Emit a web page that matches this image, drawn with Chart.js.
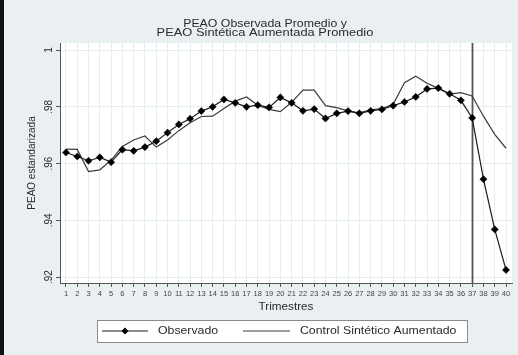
<!DOCTYPE html>
<html>
<head>
<meta charset="utf-8">
<script src="https://cdn.jsdelivr.net/npm/chart.js@4/dist/chart.umd.min.js"></script>
<style>
  html, body { margin: 0; padding: 0; background: #eaf0f2; }
  canvas { display: block; }
</style>
</head>
<body>
<canvas id="chart" width="518" height="355"></canvas>
<script>
// Quarters (x categories)
const quarters = [1, 2, 3, 4, 5, 6, 7, 8, 9, 10, 11, 12, 13, 14, 15, 16, 17, 18, 19, 20,
                  21, 22, 23, 24, 25, 26, 27, 28, 29, 30, 31, 32, 33, 34, 35, 36, 37, 38, 39, 40];

// Average observed PEAO (standardised)
const observed = [0.9639, 0.9625, 0.9610, 0.9622, 0.9605, 0.9649, 0.9645, 0.9658, 0.9679, 0.9709,
                  0.9738, 0.9758, 0.9785, 0.9800, 0.9826, 0.9814, 0.9800, 0.9806, 0.9798, 0.9833,
                  0.9814, 0.9786, 0.9792, 0.9759, 0.9777, 0.9785, 0.9777, 0.9786, 0.9791, 0.9804,
                  0.9817, 0.9835, 0.9863, 0.9866, 0.9846, 0.9823, 0.9761, 0.9545, 0.9368, 0.9225];

// Average augmented synthetic control PEAO
const synthetic = [0.9651, 0.9650, 0.9572, 0.9578, 0.9612, 0.9660, 0.9683, 0.9697, 0.9658, 0.9683,
                   0.9716, 0.9744, 0.9766, 0.9767, 0.9794, 0.9820, 0.9835, 0.9806, 0.9791, 0.9783,
                   0.9816, 0.9859, 0.9859, 0.9804, 0.9797, 0.9786, 0.9779, 0.9789, 0.9794, 0.9809,
                   0.9885, 0.9908, 0.9883, 0.9865, 0.9845, 0.9850, 0.9838, 0.9767, 0.9703, 0.9654];

// Axis ticks and labels
const yTickValues = [0.92, 0.94, 0.96, 0.98, 1];
const yTickLabels = ['.92', '.94', '.96', '.98', '1'];
const treatmentQuarter = 37;

// Texts
const titleLines = ['PEAO Observada Promedio y', 'PEAO Sintética Aumentada Promedio'];
const xTitle = 'Trimestres';
const yTitle = 'PEAO estandarizada';
const seriesNames = ['Observado', 'Control Sintético Aumentado'];

const FONT = "'Liberation Sans', Arial, Helvetica, sans-serif";
const BG = '#eaf0f2';
const AXIS = '#555555';
const GRID = '#e6edf0';
const TEXT = '#2a2a2a';
const OBS_COLOR = '#1c1c1c';
const SYN_COLOR = '#3c3c3c';
const STRETCH = 1.17;

function toPoints(values) {
  return quarters.map((q, i) => ({ x: q, y: values[i] }));
}

// Text drawn with a slight horizontal widening
function wideText(ctx, text, x, y, size, align, sx) {
  ctx.save();
  ctx.font = size + 'px ' + FONT;
  ctx.fillStyle = TEXT;
  ctx.textBaseline = 'middle';
  ctx.textAlign = align;
  ctx.translate(x, y);
  ctx.scale(sx, 1);
  ctx.fillText(text, 0, 0);
  ctx.restore();
}

function diamond(ctx, x, y, r, color) {
  ctx.beginPath();
  ctx.moveTo(x, y - r);
  ctx.lineTo(x + r, y);
  ctx.lineTo(x, y + r);
  ctx.lineTo(x - r, y);
  ctx.closePath();
  ctx.fillStyle = color;
  ctx.fill();
}

const framePlugin = {
  id: 'frame',
  beforeDraw(chart) {
    const { ctx, chartArea: a, width, height } = chart;
    ctx.save();
    ctx.fillStyle = BG;
    ctx.fillRect(0, 0, width, height);
    ctx.fillStyle = '#111111';
    ctx.fillRect(0, 0, 4, height);
    ctx.fillStyle = '#ffffff';
    ctx.fillRect(a.left, a.top, a.right - a.left, a.bottom - a.top);
    ctx.restore();
  },
  beforeDatasetsDraw(chart) {
    const { ctx, chartArea: a, scales } = chart;
    const x = Math.round(scales.x.getPixelForValue(treatmentQuarter)) + 0.5;
    ctx.save();
    ctx.strokeStyle = '#555555';
    ctx.lineWidth = 1.8;
    ctx.beginPath();
    ctx.moveTo(x, a.top);
    ctx.lineTo(x, a.bottom);
    ctx.stroke();
    ctx.restore();
  },
  afterDraw(chart) {
    const { ctx, chartArea: a, scales } = chart;

    // Title
    wideText(ctx, titleLines[0], 265, 24, 11, 'center', STRETCH - 0.05);
    wideText(ctx, titleLines[1], 265, 33, 11, 'center', STRETCH);

    // X axis title
    wideText(ctx, xTitle, (a.left + a.right) / 2, 307, 10, 'center', STRETCH);

    // Y tick labels (vertical) and axis title
    ctx.save();
    ctx.font = '10px ' + FONT;
    ctx.fillStyle = TEXT;
    ctx.textAlign = 'center';
    ctx.textBaseline = 'middle';
    yTickValues.forEach((v, i) => {
      const y = scales.y.getPixelForValue(v);
      ctx.save();
      ctx.translate(49, y);
      ctx.rotate(-Math.PI / 2);
      ctx.fillText(yTickLabels[i], 0, 0);
      ctx.restore();
    });
    ctx.translate(32, (a.top + a.bottom) / 2);
    ctx.rotate(-Math.PI / 2);
    ctx.fillText(yTitle, 0, 0);
    ctx.restore();

    // Legend
    const bx = 97, by = 320, bw = 370, bh = 22, cy = by + bh / 2;
    ctx.save();
    ctx.fillStyle = '#ffffff';
    ctx.fillRect(bx, by, bw, bh);
    ctx.strokeStyle = '#8a8a8a';
    ctx.lineWidth = 1;
    ctx.strokeRect(bx + 0.5, by + 0.5, bw, bh);
    const ds = chart.data.datasets;
    ctx.lineWidth = 1.2;
    ctx.strokeStyle = ds[0].borderColor;
    ctx.beginPath(); ctx.moveTo(102, cy); ctx.lineTo(148, cy); ctx.stroke();
    diamond(ctx, 125, cy, 3.5, ds[0].pointBackgroundColor);
    ctx.strokeStyle = ds[1].borderColor;
    ctx.beginPath(); ctx.moveTo(243, cy); ctx.lineTo(290, cy); ctx.stroke();
    ctx.restore();
    wideText(ctx, ds[0].label, 158, cy + 0.5, 10.5, 'left', STRETCH);
    wideText(ctx, ds[1].label, 300, cy + 0.5, 10.5, 'left', STRETCH);
  }
};

new Chart(document.getElementById('chart'), {
  type: 'line',
  data: {
    datasets: [
      {
        label: seriesNames[0],
        data: toPoints(observed),
        borderColor: OBS_COLOR,
        borderWidth: 1.2,
        pointStyle: 'rectRot',
        pointRadius: 3.6,
        pointBackgroundColor: '#000000',
        pointBorderColor: '#000000',
        pointBorderWidth: 0.5,
        tension: 0
      },
      {
        label: seriesNames[1],
        data: toPoints(synthetic),
        borderColor: SYN_COLOR,
        borderWidth: 1.2,
        pointRadius: 0,
        tension: 0
      }
    ]
  },
  options: {
    responsive: false,
    animation: false,
    devicePixelRatio: 1,
    layout: { padding: { left: 0, right: 6, top: 43, bottom: 0 }, autoPadding: false },
    plugins: {
      legend: { display: false },
      title: { display: false },
      tooltip: { enabled: false }
    },
    scales: {
      x: {
        type: 'linear',
        min: 0.47,
        max: 40.53,
        afterBuildTicks: s => { s.ticks = quarters.map(v => ({ value: v })); },
        afterFit: s => { s.height = 72; },
        ticks: {
          autoSkip: false,
          maxRotation: 0,
          minRotation: 0,
          padding: 2,
          color: '#444444',
          font: { family: FONT, size: 7.5 },
          callback: v => String(v)
        },
        grid: { color: GRID, tickColor: AXIS, tickLength: 4, lineWidth: 1 },
        border: { display: true, color: AXIS, width: 1 }
      },
      y: {
        type: 'linear',
        min: 0.9179,
        max: 1.0025,
        afterBuildTicks: s => { s.ticks = yTickValues.map(v => ({ value: v })); },
        afterFit: s => { s.width = 60; },
        ticks: { display: false },
        grid: { color: GRID, tickColor: AXIS, tickLength: 4, lineWidth: 1 },
        border: { display: true, color: AXIS, width: 1 }
      }
    }
  },
  plugins: [framePlugin]
});
</script>
</body>
</html>
